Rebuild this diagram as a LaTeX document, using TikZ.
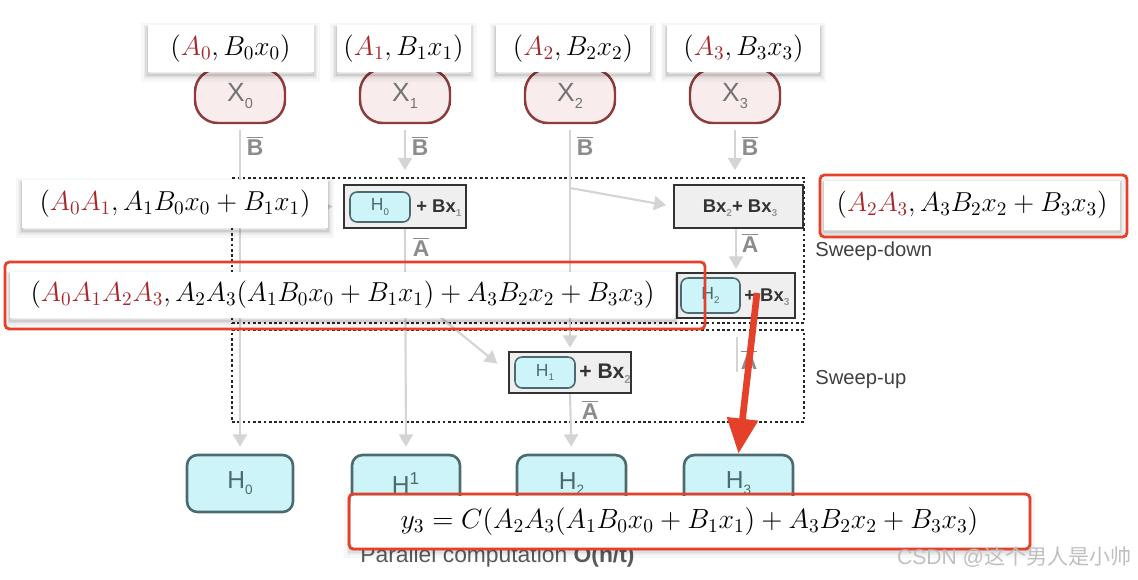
\RequirePackage{fix-cm}
\documentclass[tikz,border=0pt]{standalone}
\usepackage{fontspec}
\usepackage{amsmath}
\newfontfamily\lsans{Liberation Sans}
\newfontfamily\cjkf{Noto Sans CJK SC}
\usetikzlibrary{arrows.meta}
\definecolor{ared}{HTML}{A8262A}
\definecolor{redline}{HTML}{E5412A}
\definecolor{ovb}{HTML}{8E3B3B}
\definecolor{ovf}{HTML}{F9ECEC}
\definecolor{cyf}{HTML}{CDF5F9}
\definecolor{cyb}{HTML}{4D6B6E}
\definecolor{garr}{HTML}{D4D4D4}
\definecolor{glbl}{HTML}{8C8C8C}
\definecolor{boxg}{HTML}{EFEFEF}
\newcommand\ra[1]{\textcolor{ared}{#1}}
\newcommand\lsub[1]{\raisebox{-0.45ex}{\scalebox{0.55}{#1}}}
\newcommand\gsub[1]{\raisebox{-0.45ex}{\scalebox{0.55}{\textcolor{black!40}{#1}}}}
\newcommand\barl[1]{$\overline{\mbox{#1}}$}
\pgfdeclarelayer{bg}
\pgfsetlayers{bg,main}
\tikzset{
 sz/.style 2 args={minimum width=#1*0.02cm, minimum height=#2*0.02cm, inner sep=0pt},
 softshadow/.style={
   preaction={draw=black, draw opacity=0.03, line width=7pt, transform canvas={yshift=-2.2pt}},
   preaction={draw=black, draw opacity=0.045, line width=4.5pt, transform canvas={yshift=-2pt}},
   preaction={draw=black, draw opacity=0.06, line width=2.5pt, transform canvas={yshift=-1.8pt}},
   preaction={draw=black, draw opacity=0.08, line width=1pt, transform canvas={yshift=-1.5pt}}},
 lbl/.style={softshadow, fill=white, font=\fontsize{15.6}{18}\selectfont},
 redbox/.style={draw=redline, line width=1.6pt, rounded corners=2.5pt},
 xov/.style={draw=ovb, fill=ovf, line width=1.4pt, rounded corners=13pt, font=\lsans\fontsize{15}{18}\selectfont, text=black!55},
 hbig/.style={draw=cyb, fill=cyf, line width=1.5pt, rounded corners=6pt, font=\lsans\fontsize{14}{16}\selectfont, text=cyb},
 hsmall/.style={draw=cyb, fill=cyf, line width=0.9pt, rounded corners=4pt, font=\lsans\fontsize{10}{12}\selectfont, text=cyb},
 gbox/.style={draw=black!80, fill=boxg, line width=0.9pt},
 btxt/.style={font=\lsans\bfseries\fontsize{10.5}{12}\selectfont, text=black!80, inner sep=0pt},
 garrow/.style={draw=garr, line width=1.2pt, -{Triangle[width=8pt,length=7pt]}},
 gline/.style={draw=garr, line width=1.2pt},
 barlbl/.style={text=glbl, font=\lsans\bfseries\fontsize{13}{15}\selectfont, inner sep=0pt},
 dotbox/.style={draw=black!85, dash pattern=on 1.5pt off 1.5pt, line width=0.8pt},
 sweeplbl/.style={font=\lsans\fontsize{11.5}{14}\selectfont, text=black!75, anchor=west, inner sep=0pt},
}
\begin{document}
\begin{tikzpicture}[x=0.02cm, y=-0.02cm]
\useasboundingbox (0,0) rectangle (1138,579);

% dotted sweep regions
\begin{pgfonlayer}{bg}
\node[dotbox, sz={572}{145}] (down) at (518,250.5) {};
\node[dotbox, sz={572}{92}] (up) at (518,376) {};
\end{pgfonlayer}
\node[sweeplbl] (sdl) at (815,251) {Sweep-down};
\node[sweeplbl] (sul) at (815,380) {Sweep-up};

% input ovals
\node[xov, sz={90}{54}] (x0) at (240,96) {X\lsub{0}};
\node[xov, sz={90}{54}] (x1) at (405,96) {X\lsub{1}};
\node[xov, sz={90}{54}] (x2) at (570,96) {X\lsub{2}};
\node[xov, sz={90}{54}] (x3) at (735,96) {X\lsub{3}};

% grey combination boxes
\node[gbox, sz={122}{43}] (b1) at (405,206.5) {};
\node[hsmall, sz={60}{30}] (b1h) at (380,207) {H\lsub{0}};
\node[btxt, anchor=west] (b1t) at (416,208) {+ Bx\gsub{1}};

\node[gbox, sz={129}{43}] (b2) at (738.5,206.5) {};
\node[btxt] (b2t) at (740,208) {Bx\gsub{2}+ Bx\gsub{3}};

\node[gbox, sz={118}{45}] (b3) at (736,295.5) {};
\node[hsmall, sz={59}{35}] (b3h) at (710.5,295.5) {H\lsub{2}};
\node[btxt, anchor=west] (b3t) at (744,297) {+ Bx\gsub{3}};

\node[gbox, sz={122}{41}] (b4) at (570,372.5) {};
\node[hsmall, sz={60}{31}] (b4h) at (545,372.5) {H\lsub{1}};
\node[btxt, anchor=west, font=\lsans\bfseries\fontsize{12}{14}\selectfont] (b4t) at (579,374) {+ Bx\gsub{2}};

% output states
\node[hbig, sz={106}{57}] (H0) at (240,483.5) {H\lsub{0}};
\node[hbig, sz={108}{57}] (H1) at (406,483.5) {H\textsuperscript{1}};
\node[hbig, sz={109}{57}] (H2) at (571.5,483.5) {H\lsub{2}};
\node[hbig, sz={109}{57}] (H3) at (738.5,483.5) {H\lsub{3}};

% connectors (behind)
\coordinate (x0r) at (240,207);
\coordinate (x2br) at (570,188);
\coordinate (b1d) at (407,290);
\coordinate (c3s) at (737,337);
\coordinate (c3e) at (737,372);
\begin{pgfonlayer}{bg}
\draw[garrow, shorten <=3pt, shorten >=4pt] (x0.south) -- (H0.north);
\draw[garrow, shorten >=6pt] (x0r) -- (b1.west);
\draw[garrow, shorten <=3pt, shorten >=8pt] (x1.south) -- (b1.north);
\draw[garrow, shorten >=4pt] (b1.south) -- (H1.north);
\draw[garrow, shorten >=8pt] (b1d) -- (b4.west);
\draw[garrow, shorten <=3pt, shorten >=2pt] (x2.south) -- (b4.north);
\draw[garrow, shorten >=4pt] (x2br) -- (b2.west);
\draw[garrow, shorten <=3pt, shorten >=8pt] (x3.south) -- (x3.south |- b2.north);
\draw[garrow, shorten >=2pt] (b3.north |- b2.south) -- (b3.north);
\draw[gline] (c3s) -- (c3e);
\draw[garrow, shorten >=4pt] (b4.south) -- (H2.north);
\node[barlbl] (bb0) at (255,146) {\barl{B}};
\node[barlbl] (bb1) at (420,146) {\barl{B}};
\node[barlbl] (bb2) at (585,146) {\barl{B}};
\node[barlbl] (bb3) at (750,146) {\barl{B}};
\node[barlbl] (ab1) at (421,247) {\barl{A}};
\node[barlbl] (ab2) at (750,243) {\barl{A}};
\node[barlbl] (ab3) at (749,360) {\barl{A}};
\node[barlbl] (ab4) at (590,410) {\barl{A}};
\end{pgfonlayer}

% formula labels
\node[lbl, sz={166}{47}] (t0) at (230.5,48.5) {$(\ra{A_0},B_0x_0)$};
\node[lbl, sz={134}{47}] (t1) at (403.5,48.5) {$(\ra{A_1},B_1x_1)$};
\node[lbl, sz={154}{47}] (t2) at (573,48.5) {$(\ra{A_2},B_2x_2)$};
\node[lbl, sz={153}{47}] (t3) at (743.5,48.5) {$(\ra{A_3},B_3x_3)$};

\node[lbl, sz={306}{48}] (l1) at (175,204) {$(\ra{A_0A_1},A_1B_0x_0+B_1x_1)$};

\node[lbl, sz={296}{49}] (l2) at (972,205) {$(\ra{A_2A_3},A_3B_2x_2+B_3x_3)$};
\node[redbox, sz={307}{62}] (r1) at (973.5,206) {};

\node[lbl, sz={665}{46}] (l3) at (342.5,295) {$(\ra{A_0A_1A_2A_3},A_2A_3(A_1B_0x_0+B_1x_1)+A_3B_2x_2+B_3x_3)$};
\node[redbox, sz={700}{67}] (r2) at (355,295.5) {};

% red arrow
\coordinate (ra) at (757,293);
\draw[redline, line width=3.8pt, -{Triangle[width=17pt,length=20pt]}] (ra) -- (H3.north);

% bottom
\node[anchor=west, font=\lsans\fontsize{13}{15}\selectfont, text=black!65, inner sep=0pt] (par) at (360,557) {Parallel computation \textbf{O(n/t)}};
\node[lbl, sz={678}{52}, font=\fontsize{15.8}{19}\selectfont] (l4) at (689.5,521.5) {$y_3=C(A_2A_3(A_1B_0x_0+B_1x_1)+A_3B_2x_2+B_3x_3)$};
\node[redbox, sz={681}{55}] (r3) at (689.5,521.5) {};

\node[anchor=east, font=\fontsize{12}{14}\selectfont, text=black!25, inner sep=0pt] (wm) at (1132,557) {{\lsans CSDN @}{\cjkf 这个男人是小帅}};
\end{tikzpicture}
\end{document}
